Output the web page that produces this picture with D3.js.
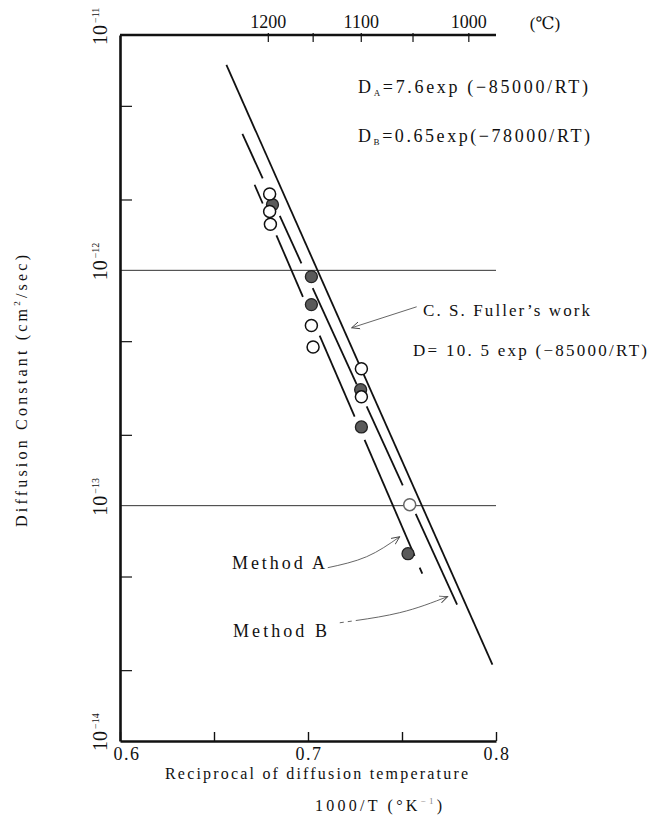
<!DOCTYPE html>
<meta charset="utf-8">
<head>
	<title>Diffusion constant vs 1000/T</title>
</head>

<style>

body{
	margin: 0;
	background-color: #fff;
}

svg{
	font-family: "Liberation Serif", "DejaVu Serif", serif;
	fill: #111;
}

.axis path, .axis line{
	stroke: #111;
}

.fitline{
	fill: none;
	stroke: #111;
	stroke-width: 1.8;
}

.pointer{
	fill: none;
	stroke: #555;
	stroke-width: 0.9;
}

</style>

<body>

<svg width="650" height="821"></svg>

<script src="https://cdnjs.cloudflare.com/ajax/libs/d3/7.8.5/d3.min.js"></script>
<script>

// measured points: 1000/T and D (cm2/sec)
var openX  = [0.6796, 0.6796, 0.6800, 0.7018, 0.7027, 0.7284, 0.7284, 0.7541];
var openD  = [2.11e-12, 1.78e-12, 1.57e-12, 5.83e-13, 4.72e-13, 3.82e-13, 2.90e-13, 1.01e-13];
var filledX = [0.6811, 0.7018, 0.7018, 0.7280, 0.7284, 0.7532];
var filledD = [1.90e-12, 9.4e-13, 7.15e-13, 3.11e-13, 2.16e-13, 6.25e-14];

// straight lines, end points [1000/T, D]
var fullerEnds  = [[0.6566, 7.46e-12], [0.7981, 2.11e-14]];
var methodBEnds = [[0.6651, 3.80e-12], [0.7793, 3.80e-14]];
var methodAEnds = [[0.6716, 2.31e-12], [0.7608, 5.14e-14]];
// drawn pieces of the lines (they are broken round the circles)
var fullerParts  = [[0.6566, 0.7981]];
var methodBParts = [[0.6651, 0.6759], [0.6850, 0.6965], [0.7025, 0.7259], [0.7312, 0.7504], [0.7573, 0.7793]];
var methodAParts = [[0.6716, 0.6759], [0.6832, 0.6973], [0.7062, 0.7248], [0.7301, 0.7567], [0.7594, 0.7608]];

// axes
var xTicks = [0.6, 0.65, 0.7, 0.75, 0.8];
var xLabels = [0.6, 0.7, 0.8];
var yMinor = [5e-12, 2e-12, 5e-13, 2e-13, 5e-14, 2e-14];
var yDecades = [1e-11, 1e-12, 1e-13, 1e-14];
var yExp = ["−11", "−12", "−13", "−14"];
var gridD = [1e-12, 1e-13];
var celsiusTicks = [1200, 1150, 1100, 1050, 1000];
var celsiusLabels = [1200, 1100, 1000];

// annotation arrows [1000/T, D]
var fullerArrow = [[0.7578, 7.0e-13], [0.7232, 5.7e-13]];
var arrowA = [[0.7105, 5.45e-14], [0.7312, 6.07e-14], [0.7488, 7.38e-14]];
var arrowB = [[0.7169, 3.18e-14], [0.7488, 3.51e-14], [0.7743, 4.11e-14]];

var svg = d3.select('svg');

var x = d3.scaleLinear().domain([0.6, 0.8]).range([120, 496]);
var y = d3.scaleLog().domain([1e-11, 1e-14]).range([35, 741]);
var xC = function(c){ return x(1000 / (c + 273)); };

svg.append('defs').append('marker')
	.attr('id', 'head')
	.attr('viewBox', '0 0 10 10')
	.attr('refX', 9).attr('refY', 5)
	.attr('markerWidth', 9).attr('markerHeight', 9)
	.attr('markerUnits', 'userSpaceOnUse')
	.attr('orient', 'auto')
	.append('path')
	.attr('d', 'M0,1 L9,5 L0,9')
	.attr('fill', 'none')
	.attr('stroke', '#444')
	.attr('stroke-width', 1);

// grid lines at 1e-12, 1e-13
svg.selectAll('.grid').data(gridD).enter().append('line')
	.attr('x1', x(0.6)).attr('x2', x(0.8))
	.attr('y1', function(d){ return y(d); })
	.attr('y2', function(d){ return y(d); })
	.attr('stroke', '#333')
	.attr('stroke-width', 1);

// left axis
var leftAxis = svg.append('g')
	.attr('class', 'axis')
	.attr('transform', 'translate(' + x(0.6) + ',0)')
	.call(d3.axisLeft(y).tickValues(yMinor).tickSize(-12).tickSizeOuter(0).tickFormat(''));
leftAxis.select('.domain').attr('stroke-width', 2.6);
leftAxis.selectAll('.tick line').attr('stroke-width', 1.2);

// bottom axis
var bottomAxis = svg.append('g')
	.attr('class', 'axis')
	.attr('transform', 'translate(0,' + y(1e-14) + ')')
	.call(d3.axisBottom(x).tickValues(xTicks).tickSize(-9).tickSizeOuter(0).tickFormat(''));
bottomAxis.select('.domain').attr('stroke-width', 2.6);
bottomAxis.selectAll('.tick line').attr('stroke-width', 1.4);

svg.selectAll('.xlab').data(xLabels).enter().append('text')
	.attr('x', function(d, i){ return x(d) + (i == 0 ? 7 : 1); })
	.attr('y', 760)
	.attr('text-anchor', 'middle')
	.attr('font-size', 18)
	.attr('letter-spacing', 1.5)
	.text(function(d){ return d.toFixed(1); });

// top axis in celsius
var topAxis = svg.append('g').attr('class', 'axis');
topAxis.append('line')
	.attr('x1', x(0.6)).attr('x2', x(0.8))
	.attr('y1', y(1e-11)).attr('y2', y(1e-11))
	.attr('stroke-width', 2.6);
topAxis.selectAll('.ct').data(celsiusTicks).enter().append('line')
	.attr('x1', xC).attr('x2', xC)
	.attr('y1', y(1e-11) - 2).attr('y2', y(1e-11) + 7)
	.attr('stroke-width', 1.2);
svg.selectAll('.clab').data(celsiusLabels).enter().append('text')
	.attr('x', xC)
	.attr('y', 28)
	.attr('text-anchor', 'middle')
	.attr('font-size', 18)
	.text(function(d){ return d; });
svg.append('text')
	.attr('x', 545).attr('y', 29)
	.attr('text-anchor', 'middle')
	.attr('font-size', 17)
	.text('(℃)');

// decade labels 10^-n, turned
var dec = svg.selectAll('.dec').data(yDecades).enter().append('g')
	.attr('transform', function(d){ return 'translate(107,' + y(d) + ') rotate(-90)'; });
dec.append('text')
	.attr('text-anchor', 'middle')
	.attr('font-size', 20)
	.text('10');
dec.append('text')
	.attr('x', 12).attr('y', -8)
	.attr('font-size', 10)
	.text(function(d, i){ return yExp[i]; });

// lines
function partPath(ends, part){
	var l0 = Math.log10(ends[0][1]), l1 = Math.log10(ends[1][1]);
	var at = function(v){ return Math.pow(10, l0 + (v - ends[0][0]) / (ends[1][0] - ends[0][0]) * (l1 - l0)); };
	return d3.line()([[x(part[0]), y(at(part[0]))], [x(part[1]), y(at(part[1]))]]);
}

[[methodAEnds, methodAParts], [methodBEnds, methodBParts], [fullerEnds, fullerParts]].forEach(function(s){
	svg.selectAll(null).data(s[1]).enter().append('path')
		.attr('class', 'fitline')
		.attr('d', function(p){ return partPath(s[0], p); });
});

// points
svg.selectAll('.filled').data(filledX).enter().append('circle')
	.attr('cx', function(d){ return x(d); })
	.attr('cy', function(d, i){ return y(filledD[i]); })
	.attr('r', 6)
	.attr('fill', '#5a5a5a')
	.attr('stroke', '#222')
	.attr('stroke-width', 1.3);

svg.selectAll('.open').data(openX).enter().append('circle')
	.attr('cx', function(d){ return x(d); })
	.attr('cy', function(d, i){ return y(openD[i]); })
	.attr('r', 6)
	.attr('fill', '#fff')
	.attr('stroke', function(d, i){ return i == openX.length - 1 ? '#666' : '#111'; })
	.attr('stroke-width', 1.5);

// arrows
var arrowLine = d3.line()
	.x(function(d){ return x(d[0]); })
	.y(function(d){ return y(d[1]); })
	.curve(d3.curveNatural);

svg.append('path').attr('class', 'pointer').attr('d', arrowLine(fullerArrow)).attr('marker-end', 'url(#head)');
svg.append('path').attr('class', 'pointer').attr('d', arrowLine(arrowA)).attr('marker-end', 'url(#head)');
svg.append('path').attr('class', 'pointer').attr('d', arrowLine(arrowB)).attr('marker-end', 'url(#head)')
	.attr('stroke-dasharray', '4,4,4,4,400');

// texts
function sub(t, pre, s, post, size){
	t.append('tspan').text(pre);
	t.append('tspan').attr('font-size', size).attr('dy', 3).text(s);
	t.append('tspan').attr('dy', -3).text(post);
}

var ta = svg.append('text').attr('x', 358).attr('y', 93).attr('font-size', 18)
	.attr('textLength', 230).attr('lengthAdjust', 'spacing');
sub(ta, 'D', 'A', '=7.6exp (−85000/RT)', 9);

var tb = svg.append('text').attr('x', 358).attr('y', 142).attr('font-size', 18)
	.attr('textLength', 232).attr('lengthAdjust', 'spacing');
sub(tb, 'D', 'B', '=0.65exp(−78000/RT)', 9);

svg.append('text').attr('x', 423).attr('y', 316).attr('font-size', 17)
	.attr('textLength', 167).attr('lengthAdjust', 'spacing')
	.text('C. S. Fuller\u2019s  work');
svg.append('text').attr('x', 413).attr('y', 356).attr('font-size', 17)
	.attr('textLength', 234).attr('lengthAdjust', 'spacing')
	.text('D= 10. 5 exp (−85000/RT)');

svg.append('text').attr('x', 232).attr('y', 569).attr('font-size', 18)
	.attr('textLength', 93).attr('lengthAdjust', 'spacing')
	.text('Method  A');
svg.append('text').attr('x', 233).attr('y', 637).attr('font-size', 18)
	.attr('textLength', 94).attr('lengthAdjust', 'spacing')
	.text('Method  B');

svg.append('text').attr('x', 165).attr('y', 779).attr('font-size', 16)
	.attr('textLength', 303).attr('lengthAdjust', 'spacing')
	.text('Reciprocal of diffusion temperature');

var tT = svg.append('text').attr('x', 315).attr('y', 811).attr('font-size', 16)
	.attr('textLength', 127).attr('lengthAdjust', 'spacing');
tT.append('tspan').text('1000/T (°K');
tT.append('tspan').attr('font-size', 9).attr('dy', -7).attr('fill', '#888').text('−1');
tT.append('tspan').attr('dy', 7).text(')');

var yt = svg.append('text')
	.attr('transform', 'translate(27,391) rotate(-90)')
	.attr('text-anchor', 'middle')
	.attr('font-size', 16)
	.attr('textLength', 272).attr('lengthAdjust', 'spacing');
yt.append('tspan').text('Diffusion  Constant  (cm');
yt.append('tspan').attr('font-size', 9).attr('dy', -7).text('2');
yt.append('tspan').attr('dy', 7).text('/sec)');

</script>

</body>
</html>
